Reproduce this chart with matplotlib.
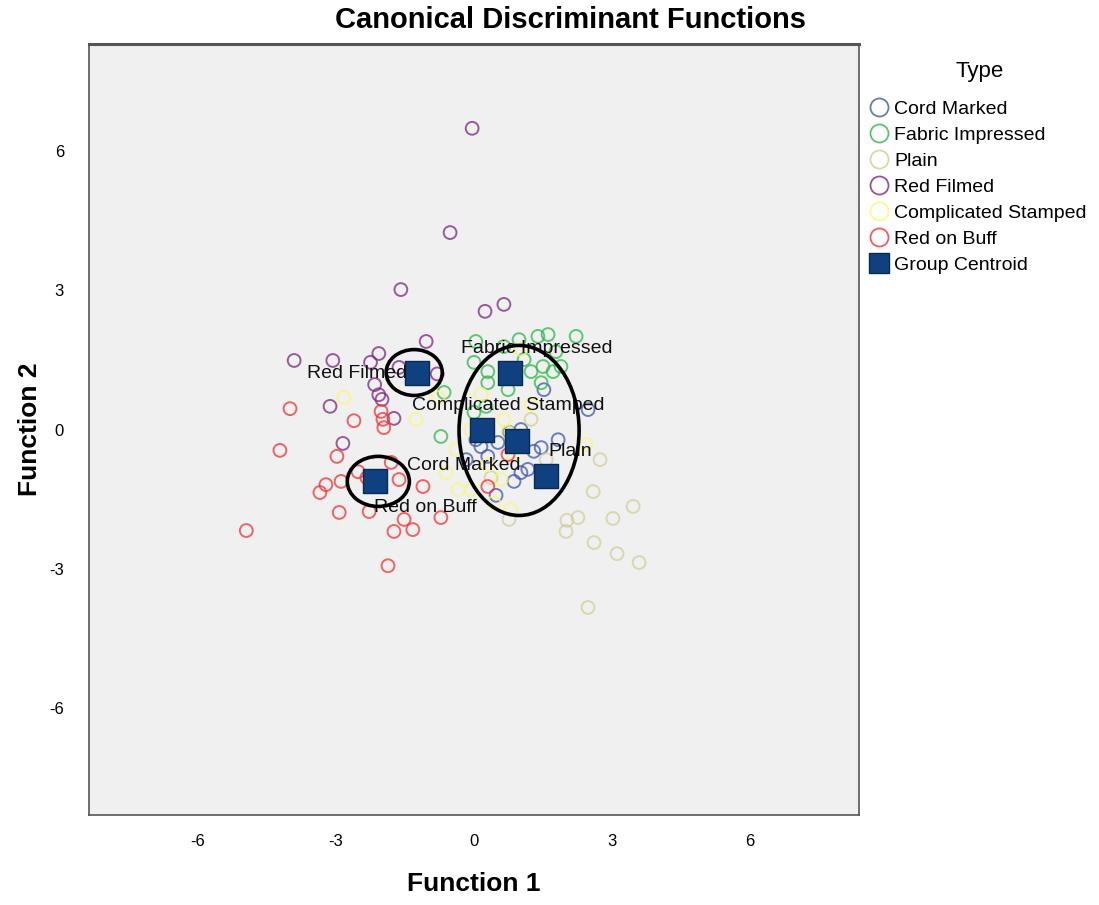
import matplotlib.pyplot as plt
from matplotlib.lines import Line2D
from matplotlib.patches import Ellipse

plt.rcParams['font.family'] = ['Liberation Sans', 'DejaVu Sans']
plt.rcParams['axes.unicode_minus'] = False

# Group names and colours
groups = ["Cord Marked", "Fabric Impressed", "Plain", "Red Filmed",
          "Complicated Stamped", "Red on Buff"]
colors = ["#3e58ac", "#2eb848", "#d3ce97", "#7c287d", "#fbf873", "#ef3338"]

# Discriminant scores (function 1, function 2)
cord_x = [1.52, 2.48, 1.30, 1.02, 0.87, 0.30, 0.04, 1.83, 0.15, 0.52, 1.46, 1.17, 0.76, -0.17, 0.48, 1.02]
cord_y = [0.86, 0.43, -0.47, -0.93, -1.12, -0.58, -0.22, -0.22, -0.37, -0.28, -0.39, -0.86, -0.06, -0.65, -1.42, 0.00]

fabric_x = [0.04, 1.39, 1.61, 2.22, 1.78, 1.09, 1.50, 1.72, 1.24, 0.65, 0.00, 0.30, 0.30, 0.74, 1.46, 1.89, -0.65, -0.72, 0.00, 0.26, 0.98]
fabric_y = [1.90, 2.01, 2.05, 2.01, 1.68, 1.51, 1.36, 1.25, 1.25, 1.79, 1.45, 1.25, 1.01, 0.86, 1.01, 1.36, 0.80, -0.15, 0.37, 0.50, 1.94]

plain_x = [2.74, 2.59, 3.46, 3.02, 2.26, 2.02, 2.00, 2.61, 3.11, 3.59, 2.48, 0.76, 1.24, 1.57, 0.37]
plain_y = [-0.65, -1.34, -1.66, -1.92, -1.90, -1.96, -2.20, -2.44, -2.68, -2.87, -3.84, -1.94, 0.22, -0.65, -1.04]

filmed_x = [-0.04, -0.52, -1.59, 0.24, 0.65, -3.91, -3.07, -2.07, -1.04, -2.25, -2.16, -2.07, -2.00, -3.13, -1.74, -2.85, -1.63, -0.80]
filmed_y = [6.50, 4.25, 3.02, 2.55, 2.70, 1.49, 1.49, 1.64, 1.90, 1.45, 0.97, 0.75, 0.65, 0.50, 0.24, -0.30, 1.34, 1.20]

stamped_x = [-2.83, -0.78, 0.74, 0.65, -0.61, -0.07, 0.59, 0.43, -0.35, 1.02, 1.24, -0.39, -1.26, 2.43, 0.30, 0.85, -0.07, 0.15, 0.80]
stamped_y = [0.69, 0.69, -0.06, 0.22, -0.93, -1.30, -1.08, -1.58, -1.30, 1.73, 0.54, -0.43, 0.22, -0.32, -0.76, -0.54, 0.00, 0.76, -1.73]

buff_x = [-4.95, -4.22, -4.00, -2.98, -2.89, -3.22, -3.35, -2.52, -2.93, -1.74, -1.33, -1.52, -1.87, -1.11, -1.63, -1.80, -2.28, -2.61, -2.02, -1.98, -1.96, -0.72, -2.33, 0.74, 0.30]
buff_y = [-2.18, -0.45, 0.45, -0.58, -1.12, -1.19, -1.36, -0.91, -1.79, -2.20, -2.16, -1.94, -2.94, -1.23, -1.08, -0.71, -1.77, 0.19, 0.39, 0.22, 0.04, -1.90, -1.04, -0.54, -1.23]

xs = [cord_x, fabric_x, plain_x, filmed_x, stamped_x, buff_x]
ys = [cord_y, fabric_y, plain_y, filmed_y, stamped_y, buff_y]

# Group centroids
cent_x = [0.93, 0.78, 1.57, -1.24, 0.17, -2.15]
cent_y = [-0.24, 1.23, -1.01, 1.21, -0.02, -1.12]

# label offsets (points) relative to each centroid
label_off = [(-38, -18), (19, 17), (17, 18), (-43, 0), (19, 18), (36, -19)]

# hand-drawn ellipses: centre x, centre y, width, height
ell_cx = [-1.30, -2.08, 0.98]
ell_cy = [1.23, -1.12, -0.02]
ell_w = [1.22, 1.35, 2.61]
ell_h = [0.99, 1.08, 3.67]

fig = plt.figure(figsize=(10.99, 9.05), dpi=100)
ax = fig.add_axes([0.081, 0.0994, 0.7006, 0.852])
ax.set_facecolor("#f0f0f0")

for x, y, c in zip(xs, ys, colors):
    ax.scatter(x, y, s=85, facecolors="none", edgecolors=c, linewidths=1.4, alpha=0.75, zorder=2)

ax.scatter(cent_x, cent_y, s=300, marker="s", color="#0f4180", edgecolors="#0a2a50",
           linewidths=1.0, zorder=4)

for g, cx, cy, off in zip(groups, cent_x, cent_y, label_off):
    ax.annotate(g, (cx, cy), xytext=off, textcoords="offset points",
                ha="center", va="center", fontsize=14, color="#111111", zorder=5)

for cx, cy, w, h in zip(ell_cx, ell_cy, ell_w, ell_h):
    ax.add_patch(Ellipse((cx, cy), w, h, fill=False, edgecolor="black", linewidth=2.6, zorder=6))

ax.set_xlim(-8.37, 8.37)
ax.set_ylim(-8.32, 8.32)
ax.set_xticks([-6, -3, 0, 3, 6])
ax.set_yticks([-6, -3, 0, 3, 6])
ax.tick_params(axis="x", length=0, pad=14, labelsize=12)
ax.tick_params(axis="y", length=0, pad=18, labelsize=12)
for s in ax.spines.values():
    s.set_color("#555555")
    s.set_linewidth(1.2)
ax.spines["top"].set_linewidth(2.2)

ax.set_xlabel("Function 1", fontsize=19, fontweight="bold", labelpad=16)
ax.set_ylabel("Function 2", fontsize=19, fontweight="bold", labelpad=5)
fig.text(0.519, 0.978, "Canonical Discriminant Functions", ha="center", va="center",
         fontsize=21, fontweight="bold")

fig.text(980 / 1099, 1 - 72 / 905, "Type", ha="center", va="center", fontsize=16)
handles = [Line2D([], [], linestyle="none", marker="o", markersize=13, markerfacecolor="none",
                  markeredgecolor=c, markeredgewidth=1.3, alpha=0.8) for c in colors]
handles.append(Line2D([], [], linestyle="none", marker="s", markersize=14,
                      markerfacecolor="#0f4180", markeredgecolor="#0a2a50"))
leg = fig.legend(handles, groups + ["Group Centroid"], loc="upper left",
                 bbox_to_anchor=(0.792, 0.889), frameon=False, fontsize=14,
                 handlelength=0.9, handletextpad=0.32,
                 labelspacing=0.43, borderaxespad=0, borderpad=0)

fig.savefig("out.png", dpi=100)
